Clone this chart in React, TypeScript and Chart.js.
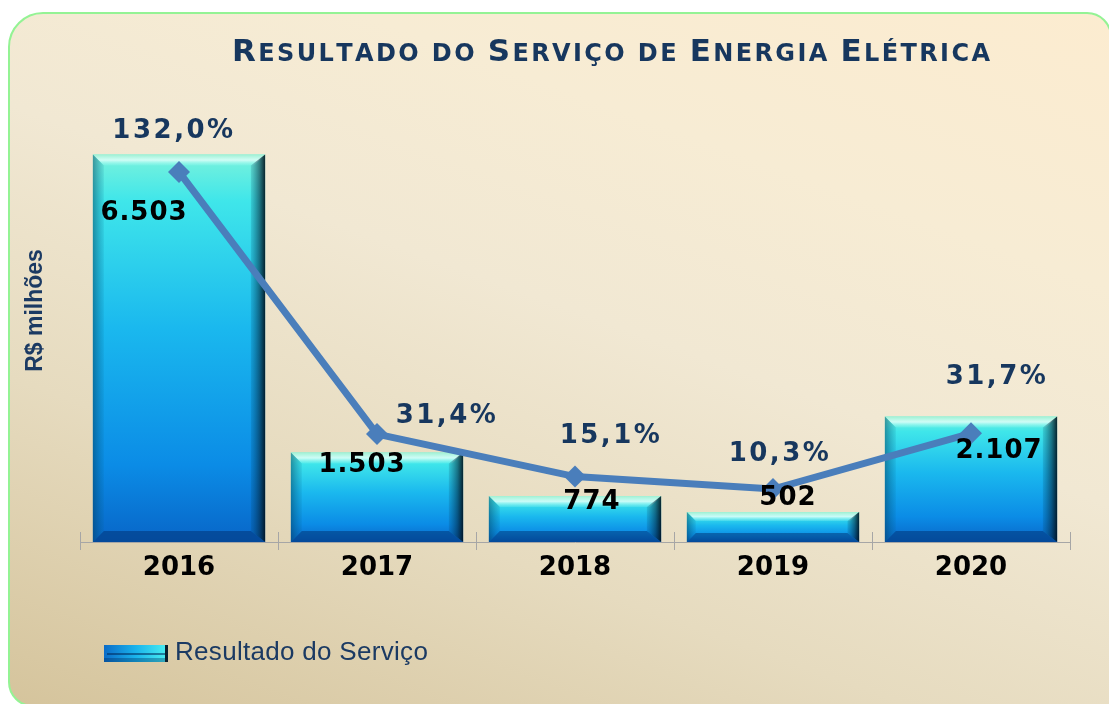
import React, { useEffect, useRef } from 'react';
import { Chart, registerables } from 'chart.js';

Chart.register(...registerables);

// ---- data ----
const years: string[] = ['2016', '2017', '2018', '2019', '2020'];
const resultadoServico: number[] = [6503, 1503, 774, 502, 2107];
const variacaoPct: number[] = [132.0, 31.4, 15.1, 10.3, 31.7];

const chartTitle = 'Resultado do Serviço de Energia Elétrica';
const yAxisTitle = 'R$ milhões';
const legendLabel = 'Resultado do Serviço';

// label nudges (pixels, relative to the element computed by Chart.js)
const valueLabelOffsets: [number, number][] = [[-35, 59], [-15, 13], [17, 6], [15, -14], [28, 35]];
const pctLabelOffsets: [number, number][] = [[-5, -41], [70, -18], [36, -40], [7, -35], [26, -56]];

const fmtThousands = (n: number) => String(n).replace(/\B(?=(\d{3})+(?!\d))/g, '.');
const fmtPct = (v: number) => v.toFixed(1).replace('.', ',') + '%';

const NAVY = '#17375e';
const LINE_BLUE = '#4a7ebb';
const BAR_DS = 1;
const LINE_DS = 0;

function barGradient(ctx: CanvasRenderingContext2D, top: number, base: number) {
  const g = ctx.createLinearGradient(0, top, 0, base);
  g.addColorStop(0, '#7af2dc');
  g.addColorStop(0.12, '#3fe6ea');
  g.addColorStop(0.45, '#1ab8ee');
  g.addColorStop(0.8, '#0b8ce6');
  g.addColorStop(1, '#0866c8');
  return g;
}

function poly(ctx: CanvasRenderingContext2D, pts: number[][], fill: any) {
  ctx.beginPath();
  ctx.moveTo(pts[0][0], pts[0][1]);
  for (let i = 1; i < pts.length; i++) ctx.lineTo(pts[i][0], pts[i][1]);
  ctx.closePath();
  ctx.fillStyle = fill;
  ctx.fill();
}

const decorPlugin = {
  id: 'decor',
  afterDatasetDraw(chart: any, args: any) {
    if (args.index !== BAR_DS) return;
    const ctx: CanvasRenderingContext2D = chart.ctx;
    const meta = chart.getDatasetMeta(BAR_DS);
    ctx.save();
    meta.data.forEach((el: any) => {
      const { x, y, base, width } = el.getProps(['x', 'y', 'base', 'width'], true);
      const l = x - width / 2, r = x + width / 2, t = y, b = base;
      const h = b - t;
      const bv = Math.min(11, h * 0.3);
      // top highlight
      const gt = ctx.createLinearGradient(0, t, 0, t + bv);
      gt.addColorStop(0, 'rgba(160,240,210,0.95)');
      gt.addColorStop(0.5, 'rgba(225,255,250,0.85)');
      gt.addColorStop(1, 'rgba(150,250,240,0.2)');
      poly(ctx, [[l, t], [r, t], [r - bv, t + bv], [l + bv, t + bv]], gt);
      // left edge
      const gl = ctx.createLinearGradient(l, 0, l + bv, 0);
      gl.addColorStop(0, 'rgba(0,60,90,0.5)');
      gl.addColorStop(1, 'rgba(0,90,130,0.1)');
      poly(ctx, [[l, t], [l + bv, t + bv], [l + bv, b - bv], [l, b]], gl);
      // right edge
      const gr = ctx.createLinearGradient(r - bv * 1.3, 0, r, 0);
      gr.addColorStop(0, 'rgba(0,60,90,0.15)');
      gr.addColorStop(0.6, 'rgba(0,30,50,0.55)');
      gr.addColorStop(1, 'rgba(0,15,25,0.9)');
      poly(ctx, [[r, t], [r, b], [r - bv * 1.3, b - bv], [r - bv * 1.3, t + bv]], gr);
      // bottom edge
      poly(ctx, [[l, b], [r, b], [r - bv * 1.3, b - bv], [l + bv, b - bv]], 'rgba(0,40,100,0.45)');
    });
    ctx.restore();
  },
  afterDraw(chart: any) {
    const ctx: CanvasRenderingContext2D = chart.ctx;
    const area = chart.chartArea;
    ctx.save();

    // upward part of the category tick marks
    ctx.strokeStyle = '#a6a6a6';
    ctx.lineWidth = 1;
    const n = years.length;
    for (let i = 0; i <= n; i++) {
      const xx = Math.round(area.left + (i * (area.right - area.left)) / n) + 0.5;
      ctx.beginPath();
      ctx.moveTo(xx, area.bottom - 10);
      ctx.lineTo(xx, area.bottom);
      ctx.stroke();
    }

    // value labels on bars
    const barMeta = chart.getDatasetMeta(BAR_DS);
    ctx.textAlign = 'center';
    ctx.textBaseline = 'middle';
    ctx.font = 'bold 26px "DejaVu Sans"';
    (ctx as any).letterSpacing = '1px';
    ctx.fillStyle = '#000';
    barMeta.data.forEach((el: any, i: number) => {
      const { x, y } = el.getProps(['x', 'y'], true);
      const [dx, dy] = valueLabelOffsets[i];
      ctx.fillText(fmtThousands(resultadoServico[i]), x + dx, y + dy);
    });

    // percent labels on line points
    const lineMeta = chart.getDatasetMeta(LINE_DS);
    (ctx as any).letterSpacing = '2.5px';
    ctx.fillStyle = NAVY;
    lineMeta.data.forEach((el: any, i: number) => {
      const { x, y } = el.getProps(['x', 'y'], true);
      const [dx, dy] = pctLabelOffsets[i];
      ctx.fillText(fmtPct(variacaoPct[i]), x + dx, y + dy);
    });

    // title in small caps
    (ctx as any).letterSpacing = '0px';
    const bigFont = 'bold 31px "DejaVu Sans"';
    const smallFont = 'bold 24px "DejaVu Sans"';
    const chars = Array.from(chartTitle);
    const isBig = (ch: string) => ch !== ch.toLowerCase();
    let natural = 0;
    const widths = chars.map((ch) => {
      ctx.font = isBig(ch) ? bigFont : smallFont;
      const w = ctx.measureText(ch.toUpperCase()).width;
      natural += w;
      return w;
    });
    const targetW = 758;
    const sp = (targetW - natural) / (chars.length - 1);
    let tx = 611 - targetW / 2;
    ctx.textAlign = 'left';
    ctx.textBaseline = 'alphabetic';
    ctx.fillStyle = NAVY;
    chars.forEach((ch, i) => {
      ctx.font = isBig(ch) ? bigFont : smallFont;
      ctx.fillText(ch.toUpperCase(), tx, 61);
      tx += widths[i] + sp;
    });

    // y axis title
    ctx.save();
    ctx.translate(36, (area.top + area.bottom) / 2 - 23);
    ctx.rotate(-Math.PI / 2);
    ctx.textAlign = 'center';
    ctx.textBaseline = 'middle';
    ctx.font = 'bold 23px "Liberation Sans"';
    ctx.fillStyle = '#1b3a63';
    ctx.fillText(yAxisTitle, 0, 0);
    ctx.restore();

    // legend
    const lx = 104, ly = 645, lw = 64, lh = 17;
    const gleg = ctx.createLinearGradient(lx, 0, lx + lw, 0);
    gleg.addColorStop(0, '#0b6cc8');
    gleg.addColorStop(0.5, '#1ab4ec');
    gleg.addColorStop(1, '#4cf0f0');
    ctx.fillStyle = gleg;
    ctx.fillRect(lx, ly, lw, lh);
    ctx.fillStyle = 'rgba(0,40,90,0.55)';
    ctx.fillRect(lx + 3, ly + 8, lw - 6, 2);
    ctx.fillStyle = 'rgba(0,40,90,0.35)';
    ctx.fillRect(lx, ly + lh - 4, lw, 4);
    ctx.fillStyle = '#0a2030';
    ctx.fillRect(lx + lw - 3, ly, 3, lh);
    ctx.font = '26px "Liberation Sans"';
    (ctx as any).letterSpacing = '0.3px';
    ctx.fillStyle = '#1b3a63';
    ctx.textAlign = 'left';
    ctx.textBaseline = 'middle';
    ctx.fillText(legendLabel, 175, ly + lh / 2 - 1);

    ctx.restore();
  },
};

export default function App() {
  const canvasRef = useRef<HTMLCanvasElement | null>(null);

  useEffect(() => {
    const canvas = canvasRef.current;
    if (!canvas) return;
    const chart = new Chart(canvas, {
      type: 'bar',
      data: {
        labels: years,
        datasets: [
          {
            type: 'line',
            label: 'Variação',
            data: variacaoPct,
            yAxisID: 'y1',
            order: 0,
            borderColor: LINE_BLUE,
            borderWidth: 7,
            pointStyle: 'rectRot',
            pointRadius: 11,
            pointBackgroundColor: LINE_BLUE,
            pointBorderColor: LINE_BLUE,
            pointBorderWidth: 0,
            tension: 0,
            clip: false as any,
          } as any,
          {
            type: 'bar',
            label: legendLabel,
            data: resultadoServico,
            yAxisID: 'y',
            order: 1,
            categoryPercentage: 1,
            barPercentage: 0.87,
            borderWidth: 0,
            backgroundColor: (c: any) => {
              const ch = c.chart;
              if (!ch.chartArea || c.type !== 'data') return '#1ab4ec';
              const yS = ch.scales.y;
              return barGradient(ch.ctx, yS.getPixelForValue(c.raw), yS.getPixelForValue(0));
            },
          } as any,
        ],
      },
      options: {
        responsive: false,
        devicePixelRatio: 1,
        animation: false,
        layout: { padding: { left: 80, right: 39, top: 125, bottom: 0 } },
        plugins: {
          legend: { display: false },
          title: { display: false },
          tooltip: { enabled: false },
        },
        scales: {
          x: {
            type: 'category',
            offset: true,
            grid: {
              display: true,
              drawOnChartArea: false,
              drawTicks: true,
              tickLength: 8,
              color: '#a6a6a6',
              offset: true,
            },
            border: { display: true, color: '#a6a6a6', width: 1 },
            ticks: {
              color: '#000',
              padding: 3,
              maxRotation: 0,
              font: { family: '"DejaVu Sans"', weight: 'bold', size: 26 },
            },
            afterFit: (s: any) => {
              s.height = 704 - 542;
            },
          },
          y: { display: false, min: 0, max: 7000 },
          y1: { display: false, min: -10, max: 150, position: 'right' },
        },
      } as any,
      plugins: [decorPlugin],
    });
    return () => chart.destroy();
  }, []);

  return (
    <>
      <div
        style={{
          position: 'fixed',
          left: 8,
          top: 12,
          width: 1104,
          height: 695,
          boxSizing: 'border-box',
          border: '2px solid #94f394',
          borderRadius: '35px 25px 0 25px',
          background:
            'linear-gradient(20deg, #d5c49c 0%, #e6dbbf 30%, #f1e8d3 55%, #f7ecd4 75%, #fcecd0 100%)',
        }}
      />
      <canvas
        ref={canvasRef}
        width={1109}
        height={704}
        style={{ position: 'fixed', left: 0, top: 0, width: 1109, height: 704 }}
      />
    </>
  );
}
